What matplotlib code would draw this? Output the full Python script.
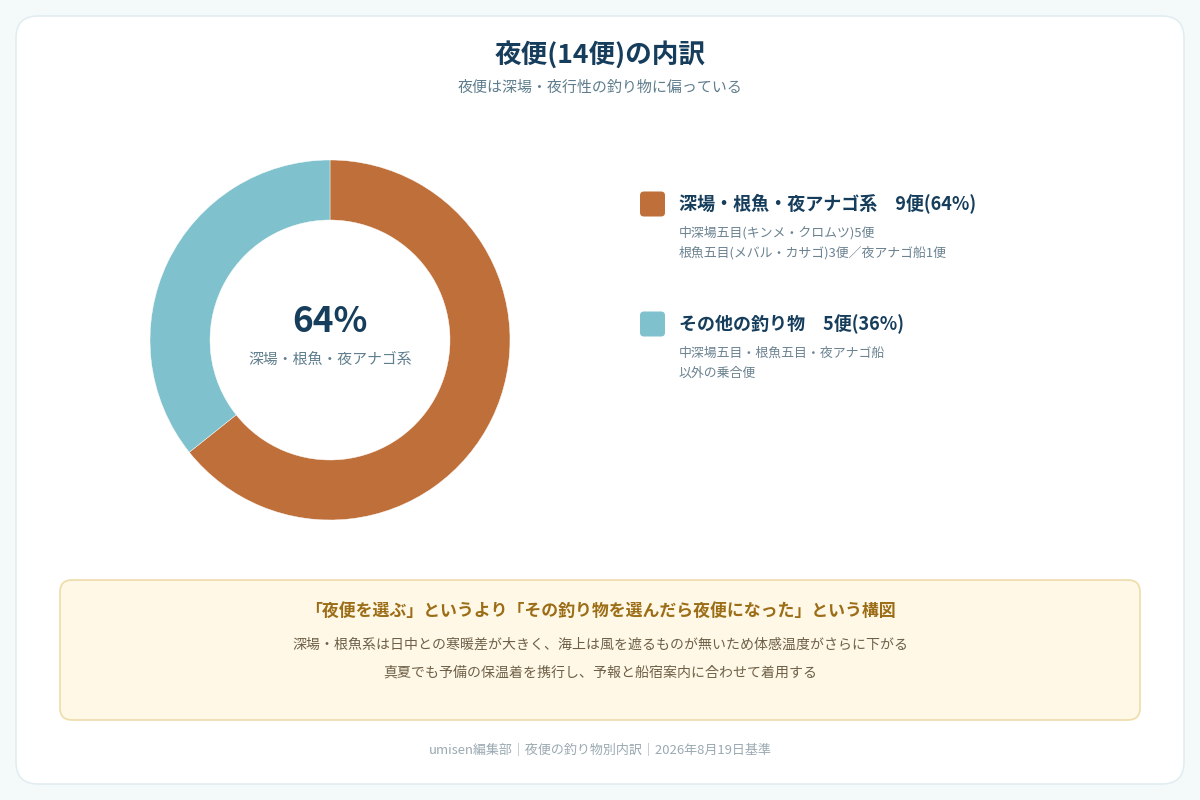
import matplotlib.pyplot as plt
from matplotlib.patches import FancyBboxPatch

plt.rcParams['font.family'] = ['Noto Sans CJK JP', 'DejaVu Sans']

# データ
categories = ["深場・根魚・夜アナゴ系", "その他の釣り物"]
trips = [9, 5]
colors = ["#bf6f3a", "#7fc1cc"]
details = [
    ["中深場五目(キンメ・クロムツ)5便", "根魚五目(メバル・カサゴ)3便／夜アナゴ船1便"],
    ["中深場五目・根魚五目・夜アナゴ船", "以外の乗合便"],
]
title = "夜便(14便)の内訳"
subtitle = "夜便は深場・夜行性の釣り物に偏っている"
note_head = "「夜便を選ぶ」というより「その釣り物を選んだら夜便になった」という構図"
note_lines = [
    "深場・根魚系は日中との寒暖差が大きく、海上は風を遮るものが無いため体感温度がさらに下がる",
    "真夏でも予備の保温着を携行し、予報と船宿案内に合わせて着用する",
]
footer = "umisen編集部｜夜便の釣り物別内訳｜2026年8月19日基準"

total = sum(trips)
shares = [round(v / total * 100) for v in trips]

navy = "#163e5c"
gray = "#5f7d8c"

fig = plt.figure(figsize=(12, 8), dpi=100)
fig.patch.set_facecolor("#f4f9fa")

# 背景レイヤー(ピクセル座標)
bg = fig.add_axes([0, 0, 1, 1])
bg.set_xlim(0, 1200)
bg.set_ylim(800, 0)
bg.axis("off")

card = FancyBboxPatch((16, 16), 1168, 768, boxstyle="round,pad=0,rounding_size=22",
                      facecolor="white", edgecolor="#e2edf0", linewidth=1.2)
bg.add_patch(card)

bg.text(600, 55, title, ha="center", va="center", fontsize=19.2,
        fontweight="bold", color=navy)
bg.text(600, 88, subtitle, ha="center", va="center", fontsize=10.8, color=gray)

# ドーナツ
ax = fig.add_axes([0.125, 0.35, 0.3, 0.45])
ax.pie(trips, colors=colors, startangle=90, counterclock=False, radius=1,
       wedgeprops=dict(width=1/3, edgecolor="white", linewidth=0.3))
ax.set_xlim(-1.0, 1.0)
ax.set_ylim(-1.0, 1.0)
ax.set_aspect("equal")

bg.text(330, 322, f"{shares[0]}%", ha="center", va="center", fontsize=25.3,
        fontweight="bold", color=navy)
bg.text(330, 360, categories[0], ha="center", va="center", fontsize=10.7, color=gray)

# 凡例
row_y = [204, 324]
for i, cat in enumerate(categories):
    y = row_y[i]
    sq = FancyBboxPatch((640, y - 12.5), 25, 25, boxstyle="round,pad=0,rounding_size=4",
                        facecolor=colors[i], edgecolor="none")
    bg.add_patch(sq)
    bg.text(679, y, f"{cat}　{trips[i]}便({shares[i]}%)", ha="left", va="center",
            fontsize=13, fontweight="bold", color=navy)
    for j, line in enumerate(details[i]):
        bg.text(679, y + 29 + j * 20, line, ha="left", va="center",
                fontsize=9.3, color="#6b8290")

# 注記ボックス
note = FancyBboxPatch((60, 580), 1080, 140, boxstyle="round,pad=0,rounding_size=12",
                      facecolor="#fff8e6", edgecolor="#efdcaa", linewidth=1.2)
bg.add_patch(note)
bg.text(600, 611, note_head, ha="center", va="center", fontsize=12.2,
        fontweight="bold", color="#9c6d17")
for k, line in enumerate(note_lines):
    bg.text(600, 645 + k * 27, line, ha="center", va="center", fontsize=10.05,
            color="#6e6048")

bg.text(600, 750, footer, ha="center", va="center", fontsize=9.4, color="#9aa9b1")

fig.savefig("out.png", dpi=100, facecolor=fig.get_facecolor())
